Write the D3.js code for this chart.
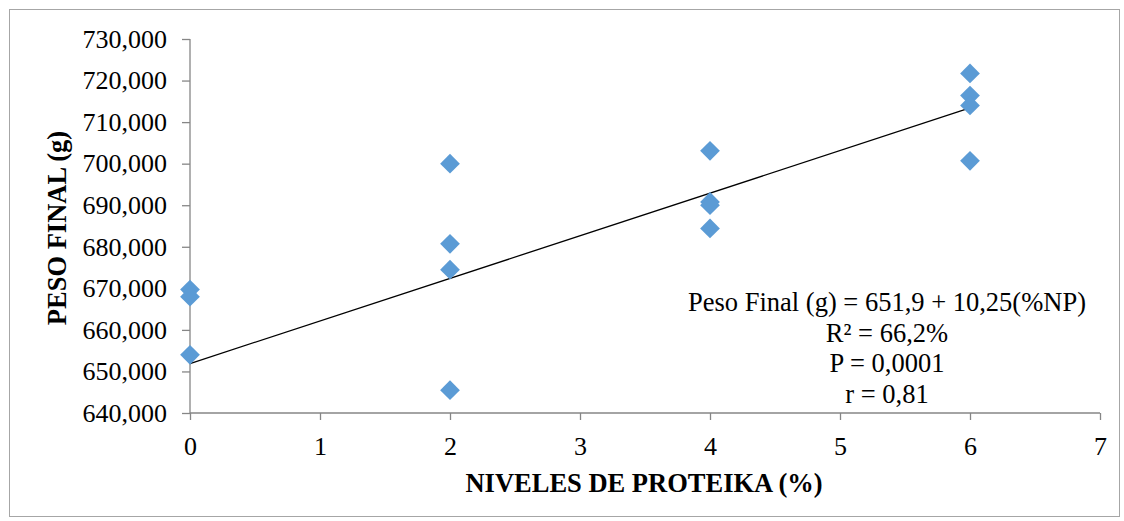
<!DOCTYPE html>
<html><head><meta charset="utf-8">
<script src="https://cdn.jsdelivr.net/npm/d3@7"></script>
<style>body{margin:0;background:#fff}svg{display:block}</style>
</head><body>
<script>
const xNivel = [0,0,0, 2,2,2,2, 4,4,4,4, 6,6,6,6];
const yPeso  = [669.7,668.0,654.0, 700.0,680.7,674.5,645.5, 703.1,690.8,690.0,684.4, 721.7,716.4,714.0,700.7];
const yTicks = [640,650,660,670,680,690,700,710,720,730];
const xTicks = [0,1,2,3,4,5,6,7];
const intercept = 651.9, slope = 10.25;
const eqLines = ["Peso Final (g) = 651,9 + 10,25(%NP)","R² = 66,2%","P = 0,0001","r = 0,81"];

const W=1124,H=521;
const svg=d3.select("body").append("svg").attr("width",W).attr("height",H);
const font="'Liberation Serif','Times New Roman',serif";
svg.append("rect").attr("x",9.5).attr("y",9.5).attr("width",1110).attr("height",507)
  .attr("fill","#fff").attr("stroke","#a6a6a6");
const x=d3.scaleLinear().domain([0,7]).range([190,1100]);
const y=d3.scaleLinear().domain([640,730]).range([413,39]);
const yf=d=>d+",000";
const gy=svg.append("g").attr("transform","translate(190,0)")
  .call(d3.axisLeft(y).tickValues(yTicks).tickFormat(yf).tickSize(8).tickPadding(15));
const gx=svg.append("g").attr("transform","translate(0,413)")
  .call(d3.axisBottom(x).tickValues(xTicks).tickFormat(d=>d).tickSize(7).tickPadding(17));
[gx,gy].forEach(g=>{g.selectAll("path,line").attr("stroke","#868686").attr("stroke-width",1.3);
  g.selectAll("text").attr("font-family",font).attr("font-size",26).attr("fill","#000");});
gy.select(".domain").attr("d","M0,413V39");
gx.select(".domain").attr("d","M190,0H1100");
// regression line
svg.append("line").attr("x1",x(0)).attr("y1",y(intercept)).attr("x2",x(6)).attr("y2",y(intercept+slope*6))
  .attr("stroke","#000").attr("stroke-width",1.3);
// points (diamonds)
svg.append("g").selectAll("path").data(xNivel.map((v,i)=>[v,yPeso[i]])).join("path")
  .attr("transform",d=>`translate(${x(d[0])},${y(d[1])}) rotate(45)`)
  .attr("d",d3.symbol().type(d3.symbolSquare).size(195)).attr("fill","#5b9bd5");
// equation
svg.append("g").selectAll("text").data(eqLines).join("text")
  .attr("x",887).attr("y",(d,i)=>311+i*30.5).attr("text-anchor","middle")
  .attr("font-family",font).attr("font-size",26.5).attr("fill","#000").text(d=>d);
// axis titles
svg.append("text").attr("x",644).attr("y",492).attr("text-anchor","middle")
  .attr("font-family",font).attr("font-size",26.5).attr("font-weight","bold").text("NIVELES DE PROTEIKA (%)");
svg.append("text").attr("transform","translate(66,228) rotate(-90)").attr("text-anchor","middle")
  .attr("font-family",font).attr("font-size",26.5).attr("font-weight","bold").text("PESO FINAL (g)");
</script>
</body></html>
